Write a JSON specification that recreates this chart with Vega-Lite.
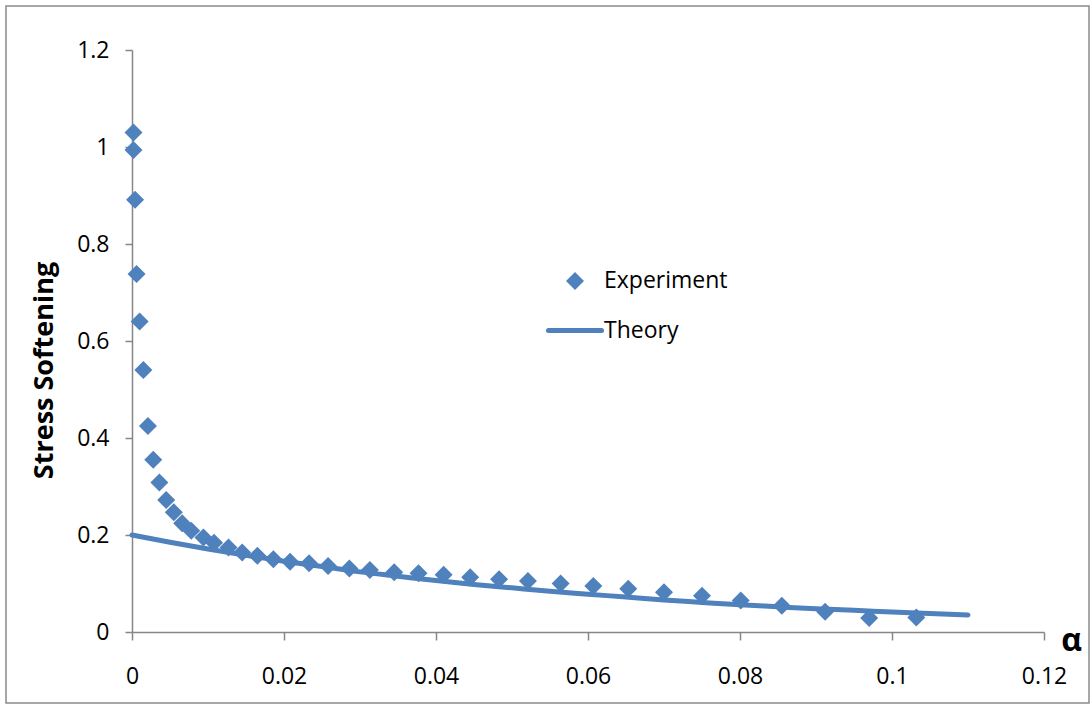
{
  "$schema": "https://vega.github.io/schema/vega-lite/v6.json",
  "width": 1083,
  "height": 697,
  "autosize": {"type": "none"},
  "padding": {"left": 6, "top": 6, "right": 2, "bottom": 3},
  "background": "white",
  "config": {
    "view": {"stroke": "#8a8a8a", "strokeWidth": 1.5},
    "font": "Open Sans"
  },
  "datasets": {
    "experiment": [
      {"alpha": 0.0002, "ss": 1.030, "series": "Experiment"},
      {"alpha": 0.0002, "ss": 0.994, "series": "Experiment"},
      {"alpha": 0.0004, "ss": 0.891, "series": "Experiment"},
      {"alpha": 0.0006, "ss": 0.738, "series": "Experiment"},
      {"alpha": 0.0010, "ss": 0.640, "series": "Experiment"},
      {"alpha": 0.0015, "ss": 0.540, "series": "Experiment"},
      {"alpha": 0.0021, "ss": 0.425, "series": "Experiment"},
      {"alpha": 0.0028, "ss": 0.355, "series": "Experiment"},
      {"alpha": 0.0036, "ss": 0.308, "series": "Experiment"},
      {"alpha": 0.0045, "ss": 0.272, "series": "Experiment"},
      {"alpha": 0.0055, "ss": 0.247, "series": "Experiment"},
      {"alpha": 0.0066, "ss": 0.224, "series": "Experiment"},
      {"alpha": 0.0078, "ss": 0.209, "series": "Experiment"},
      {"alpha": 0.0094, "ss": 0.195, "series": "Experiment"},
      {"alpha": 0.0108, "ss": 0.184, "series": "Experiment"},
      {"alpha": 0.0127, "ss": 0.174, "series": "Experiment"},
      {"alpha": 0.0145, "ss": 0.164, "series": "Experiment"},
      {"alpha": 0.0165, "ss": 0.157, "series": "Experiment"},
      {"alpha": 0.0186, "ss": 0.150, "series": "Experiment"},
      {"alpha": 0.0208, "ss": 0.145, "series": "Experiment"},
      {"alpha": 0.0233, "ss": 0.142, "series": "Experiment"},
      {"alpha": 0.0258, "ss": 0.136, "series": "Experiment"},
      {"alpha": 0.0286, "ss": 0.131, "series": "Experiment"},
      {"alpha": 0.0313, "ss": 0.128, "series": "Experiment"},
      {"alpha": 0.0345, "ss": 0.123, "series": "Experiment"},
      {"alpha": 0.0377, "ss": 0.121, "series": "Experiment"},
      {"alpha": 0.0410, "ss": 0.118, "series": "Experiment"},
      {"alpha": 0.0445, "ss": 0.113, "series": "Experiment"},
      {"alpha": 0.0483, "ss": 0.109, "series": "Experiment"},
      {"alpha": 0.0521, "ss": 0.105, "series": "Experiment"},
      {"alpha": 0.0564, "ss": 0.100, "series": "Experiment"},
      {"alpha": 0.0607, "ss": 0.095, "series": "Experiment"},
      {"alpha": 0.0653, "ss": 0.089, "series": "Experiment"},
      {"alpha": 0.0700, "ss": 0.082, "series": "Experiment"},
      {"alpha": 0.0750, "ss": 0.075, "series": "Experiment"},
      {"alpha": 0.0801, "ss": 0.065, "series": "Experiment"},
      {"alpha": 0.0855, "ss": 0.054, "series": "Experiment"},
      {"alpha": 0.0912, "ss": 0.042, "series": "Experiment"},
      {"alpha": 0.0970, "ss": 0.029, "series": "Experiment"},
      {"alpha": 0.1032, "ss": 0.030, "series": "Experiment"}
    ],
    "theory": [
      {"alpha": 0.000, "ss": 0.200},
      {"alpha": 0.005, "ss": 0.185},
      {"alpha": 0.010, "ss": 0.171},
      {"alpha": 0.015, "ss": 0.158},
      {"alpha": 0.020, "ss": 0.146},
      {"alpha": 0.025, "ss": 0.135},
      {"alpha": 0.030, "ss": 0.124},
      {"alpha": 0.035, "ss": 0.115},
      {"alpha": 0.040, "ss": 0.106},
      {"alpha": 0.045, "ss": 0.098},
      {"alpha": 0.050, "ss": 0.091},
      {"alpha": 0.055, "ss": 0.084},
      {"alpha": 0.060, "ss": 0.078},
      {"alpha": 0.065, "ss": 0.072},
      {"alpha": 0.070, "ss": 0.066},
      {"alpha": 0.075, "ss": 0.061},
      {"alpha": 0.080, "ss": 0.056},
      {"alpha": 0.085, "ss": 0.052},
      {"alpha": 0.090, "ss": 0.048},
      {"alpha": 0.095, "ss": 0.045},
      {"alpha": 0.100, "ss": 0.041},
      {"alpha": 0.105, "ss": 0.038},
      {"alpha": 0.110, "ss": 0.035}
    ]
  },
  "encoding": {
    "x": {
      "field": "alpha",
      "type": "quantitative",
      "scale": {"domain": [0, 0.12], "range": [126, 1038], "nice": false, "zero": false},
      "axis": {
        "title": "α",
        "offset": -71,
        "values": [0, 0.02, 0.04, 0.06, 0.08, 0.1, 0.12],
        "format": ".2~f",
        "grid": false,
        "domainColor": "#868686",
        "domainWidth": 1.5,
        "tickColor": "#868686",
        "tickWidth": 1.5,
        "tickSize": 8,
        "labelFont": "Open Sans",
        "labelFontSize": 23,
        "labelColor": "black",
        "labelPadding": 25,
        "labelFlush": false,
        "labelOverlap": false,
        "titleFont": "Open Sans",
        "titleFontSize": 32,
        "titleFontWeight": "bold",
        "titleColor": "black",
        "titleX": 1065,
        "titleY": 8,
        "titleAlign": "center",
        "titleBaseline": "middle"
      }
    },
    "y": {
      "field": "ss",
      "type": "quantitative",
      "scale": {"domain": [0, 1.2], "range": [626, 44], "nice": false, "zero": false},
      "axis": {
        "title": "Stress Softening",
        "offset": -126,
        "values": [0, 0.2, 0.4, 0.6, 0.8, 1, 1.2],
        "format": ".1~f",
        "grid": false,
        "domainColor": "#868686",
        "domainWidth": 1.5,
        "tickColor": "#868686",
        "tickWidth": 1.5,
        "tickSize": 7,
        "labelFont": "Open Sans",
        "labelFontSize": 23,
        "labelColor": "black",
        "labelPadding": 16,
        "labelOverlap": false,
        "titleFont": "Open Sans",
        "titleFontSize": 27,
        "titleFontWeight": "bold",
        "titleColor": "black",
        "titleAngle": 270,
        "titleX": -88,
        "titleY": 364,
        "titleAlign": "center",
        "titleBaseline": "middle"
      }
    }
  },
  "layer": [
    {
      "data": {"name": "theory"},
      "mark": {"type": "line", "color": "#4F81BD", "strokeWidth": 5, "strokeCap": "round", "interpolate": "monotone"},
      "encoding": {}
    },
    {
      "data": {"name": "experiment"},
      "mark": {"type": "point", "filled": true, "opacity": 1},
      "encoding": {
        "color": {
          "field": "series",
          "type": "nominal",
          "scale": {"domain": ["Experiment", "Theory"], "range": ["#4F81BD", "#4F81BD"]},
          "legend": {
            "title": null,
            "orient": "none",
            "legendX": 557.5,
            "legendY": 263.5,
            "padding": 0,
            "labelFont": "Open Sans",
            "labelFontSize": 23,
            "labelColor": "black",
            "labelOffset": 17.5,
            "rowPadding": 25.5,
            "symbolOpacity": 1,
            "encode": {
              "symbols": {
                "update": {
                  "stroke": {"value": "#4F81BD"},
                  "strokeCap": {"value": "round"},
                  "strokeWidth": {"signal": "datum.value === 'Theory' ? 5 : 0"}
                }
              }
            }
          }
        },
        "shape": {
          "field": "series",
          "type": "nominal",
          "scale": {"domain": ["Experiment", "Theory"], "range": ["diamond", "stroke"]}
        },
        "size": {
          "field": "series",
          "type": "nominal",
          "scale": {"type": "ordinal", "domain": ["Experiment", "Theory"], "range": [324, 2809]}
        }
      }
    }
  ]
}
